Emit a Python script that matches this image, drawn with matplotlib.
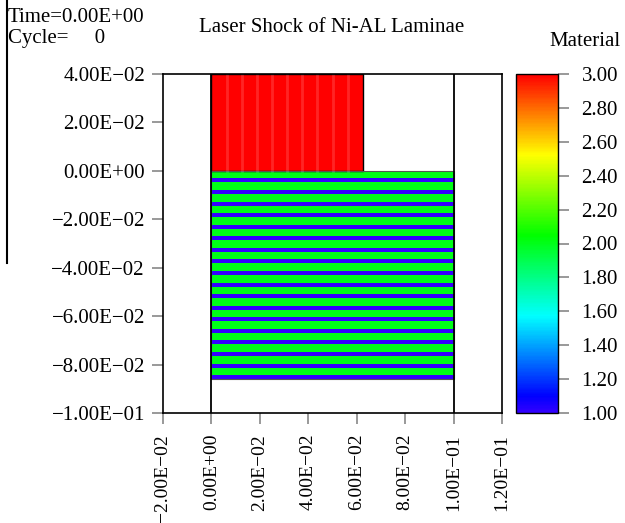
import numpy as np
import matplotlib
matplotlib.use("Agg")
import matplotlib.pyplot as plt
from matplotlib.colors import ListedColormap, hsv_to_rgb
from matplotlib.lines import Line2D
from matplotlib.patches import Rectangle

plt.rcParams['font.family'] = ['Liberation Serif', 'DejaVu Serif']
plt.rcParams['font.size'] = 15

# problem setup
sim_time = 0.0
cycle = 0
x_ticks = [-0.02, 0.0, 0.02, 0.04, 0.06, 0.08, 0.10, 0.12]
y_ticks = [0.04, 0.02, 0.0, -0.02, -0.04, -0.06, -0.08, -0.10]
cbar_ticks = [1.0, 1.2, 1.4, 1.6, 1.8, 2.0, 2.2, 2.4, 2.6, 2.8, 3.0]

# flyer block (material 3)
flyer_x = [0.0, 0.0625]
flyer_y = [0.0, 0.04]
flyer_mat = 3

# laminate stack below the flyer: alternating material 2 / material 1
domain_x = [0.0, 0.1]
lam_top = 0.0
lam_materials = [2, 1] * 18
lam_thick = {2: 0.0031, 1: 0.00168}

# colour table: hue sweep from violet-blue (1) to red (3)
t = np.linspace(0, 1, 256)
hsv = np.stack([0.70 * (1 - t), np.ones_like(t), np.ones_like(t)], axis=1)
cmap = ListedColormap(hsv_to_rgb(hsv))
cmap.set_bad('white')

fig = plt.figure(figsize=(6.25, 5.23), dpi=100)
ax = fig.add_axes([163 / 625, 1 - 413 / 523, 339 / 625, 339 / 523])
cax = fig.add_axes([516 / 625, 1 - 413 / 523, 42 / 625, 339 / 523])

# build the material field on the block-structured mesh
y_edges = [lam_top]
for m in lam_materials:
    y_edges.append(y_edges[-1] - lam_thick[m])
y_edges = y_edges[::-1] + [flyer_y[1]]
x_edges = [domain_x[0], flyer_x[1], domain_x[1]]
field = np.full((len(y_edges) - 1, 2), np.nan)
for i, m in enumerate(lam_materials[::-1]):
    field[i, :] = m
field[-1, 0] = flyer_mat

mesh = ax.pcolormesh(x_edges, y_edges, np.ma.masked_invalid(field),
                     cmap=cmap, vmin=1, vmax=3, shading='flat')

# faint cell lines inside the flyer
for xc in np.arange(flyer_x[0] + 0.00625, flyer_x[1], 0.00625):
    ax.plot([xc, xc], flyer_y, color='white', lw=2.0, alpha=0.15)

ax.add_patch(Rectangle((flyer_x[0], flyer_y[0]), flyer_x[1] - flyer_x[0],
                       flyer_y[1] - flyer_y[0], fill=False, ec='black', lw=1.0))
ax.add_patch(Rectangle((domain_x[0], y_edges[0]), domain_x[1] - domain_x[0],
                       lam_top - y_edges[0], fill=False, ec='#555555', lw=0.8))
for xv in domain_x:
    ax.axvline(xv, color='black', lw=1.3)

ax.set_xlim(-0.02, 0.12)
ax.set_ylim(-0.10, 0.04)
ax.set_xticks(x_ticks)
ax.set_yticks(y_ticks)


def sci(v):
    return ('%.2E' % v).replace('-', '\u2212')


ax.set_xticklabels([sci(v) for v in x_ticks], rotation=90, fontsize=14)
ax.set_yticklabels([sci(v) for v in y_ticks])
ax.tick_params(axis='y', direction='out', length=8, width=1.2, color='#888888', pad=5)
ax.tick_params(axis='x', direction='out', length=8, width=1.2, color='#888888', pad=7)
for s in ax.spines.values():
    s.set_linewidth(1.2)

cb = fig.colorbar(mesh, cax=cax, ticks=cbar_ticks)
cb.ax.set_yticklabels(['%.2f' % v for v in cbar_ticks])
cb.ax.tick_params(direction='out', length=8, width=1.2, color='#888888', pad=9)
cb.outline.set_linewidth(1.0)

fig.text(332 / 625, 1 - 32 / 523, 'Laser Shock of Ni-AL Laminae', ha='center', va='baseline')
fig.text(585 / 625, 1 - 46 / 523, 'Material', ha='center', va='baseline')
fig.text(8 / 625, 1 - 22 / 523, 'Time=%s' % sci(sim_time), ha='left', va='baseline')
fig.text(8 / 625, 1 - 43 / 523, 'Cycle=     %d' % cycle, ha='left', va='baseline')
fig.add_artist(Line2D([7 / 625, 7 / 625], [1, 1 - 263 / 523], color='black', lw=1.5))

fig.savefig('out.png', dpi=100)
